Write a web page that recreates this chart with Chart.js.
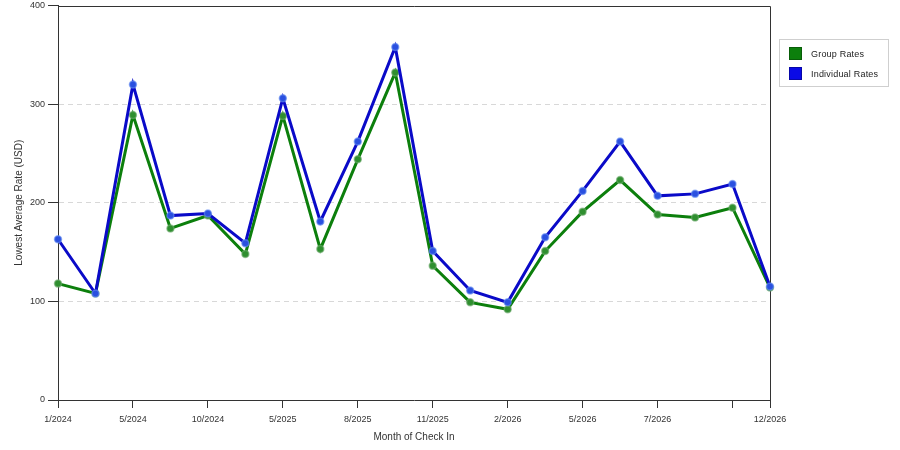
<!DOCTYPE html>
<html>
<head>
<meta charset="utf-8">
<script src="https://cdn.jsdelivr.net/npm/chart.js@4/dist/chart.umd.min.js"></script>
<style>
  html, body { margin: 0; padding: 0; background: #fff; }
  #wrap { position: relative; width: 900px; height: 450px; }
  #legend {
    position: absolute; left: 779px; top: 39px; width: 108px; height: 46px;
    border: 1px solid #cfcfcf; font: 9px "Liberation Sans", Arial, sans-serif; color: #222;
  }
  .item { position: absolute; left: 9px; height: 12px; line-height: 12px; }
  .item span { position: absolute; left: 0; top: 0; width: 11px; height: 11px; border: 1px solid #0004; }
  .item b { font-weight: normal; position: absolute; left: 22px; top: 1px; white-space: nowrap; letter-spacing: 0.2px; }
</style>
</head>
<body>
<div id="wrap">
  <canvas id="chart" width="900" height="450"></canvas>
  <div id="legend">
    <div class="item" style="top:7px"><span style="background:#0c7f0c"></span><b>Group Rates</b></div>
    <div class="item" style="top:27px"><span style="background:#0a0ae6"></span><b>Individual Rates</b></div>
  </div>
</div>
<script>
// month labels (only every other point is labelled on the axis)
const months = ['1/2024', '', '5/2024', '', '10/2024', '', '5/2025', '', '8/2025', '',
                '11/2025', '', '2/2026', '', '5/2026', '', '7/2026', '', '', '12/2026'];
const groupRates = [118, 108, 289, 174, 187, 148, 288, 153, 244, 332,
                    136, 99, 92, 151, 191, 223, 188, 185, 195, 114];
const individualRates = [163, 108, 320, 187, 189, 159, 306, 181, 262, 358,
                         151, 111, 99, 165, 212, 262, 207, 209, 219, 115];
const yTicks = [0, 100, 200, 300, 400];

const font = '"Liberation Sans", Arial, sans-serif';

// top and right edges of the plot frame (left/bottom come from the axes)
const frame = {
    id: 'frame',
    beforeDatasetsDraw(chart) {
        const { ctx, chartArea: a } = chart;
        const t = Math.round(a.top) + 0.5, r = Math.round(a.right) + 0.5;
        ctx.save();
        ctx.strokeStyle = '#333';
        ctx.lineWidth = 1;
        ctx.beginPath();
        ctx.moveTo(Math.round(a.left), t);
        ctx.lineTo(r, t);
        ctx.lineTo(r, Math.round(a.bottom));
        ctx.stroke();
        ctx.restore();
    }
};

new Chart(document.getElementById('chart'), {
    type: 'line',
    data: {
        labels: months,
        datasets: [
            {
                label: 'Group Rates',
                data: groupRates,
                borderColor: '#0c7f0c',
                borderWidth: 3,
                pointRadius: 3.5,
                pointBackgroundColor: '#2f8f2f',
                pointBorderColor: 'rgba(110,170,110,0.6)',
                pointBorderWidth: 1.5,
                tension: 0,
                clip: false,
                order: 2
            },
            {
                label: 'Individual Rates',
                data: individualRates,
                borderColor: '#0a0ac8',
                borderWidth: 3,
                pointRadius: 3.5,
                pointBackgroundColor: '#2a50e0',
                pointBorderColor: 'rgba(100,140,240,0.6)',
                pointBorderWidth: 1.5,
                tension: 0,
                clip: false,
                order: 1
            }
        ]
    },
    options: {
        responsive: false,
        animation: false,
        events: [],
        layout: { padding: { left: 0, right: 130, top: 5, bottom: 0 } },
        plugins: { legend: { display: false }, tooltip: { enabled: false } },
        scales: {
            x: {
                offset: false,
                afterFit: s => { s.height = 50; },
                grid: {
                    drawOnChartArea: false,
                    tickLength: 8,
                    tickColor: c => (c.index % 2 === 0 || c.index === months.length - 1) ? '#333' : 'rgba(0,0,0,0)'
                },
                border: { color: '#333' },
                ticks: {
                    autoSkip: false, maxRotation: 0, padding: 6,
                    color: '#333', font: { family: font, size: 9 }
                },
                title: {
                    display: true, text: 'Month of Check In', color: '#333',
                    font: { family: font, size: 10 }, padding: { top: 0, bottom: 7 }
                }
            },
            y: {
                min: 0, max: 400,
                afterFit: s => { s.width = 58; s.paddingTop = 0; s.paddingBottom = 0; },
                afterBuildTicks: s => { s.ticks = yTicks.map(v => ({ value: v })); },
                grid: {
                    color: c => (c.tick && (c.tick.value === 0 || c.tick.value === 400)) ? 'rgba(0,0,0,0)' : '#d8d8d8',
                    tickColor: '#333',
                    tickLength: 10,
                    tickBorderDash: []
                },
                border: { color: '#333', dash: [5, 4] },
                ticks: {
                    padding: 3, color: '#333', font: { family: font, size: 9 }
                },
                title: {
                    display: true, text: 'Lowest Average Rate (USD)', color: '#333',
                    font: { family: font, size: 10 }, padding: { top: 13, bottom: 0 }
                }
            }
        }
    },
    plugins: [frame]
});
</script>
</body>
</html>
